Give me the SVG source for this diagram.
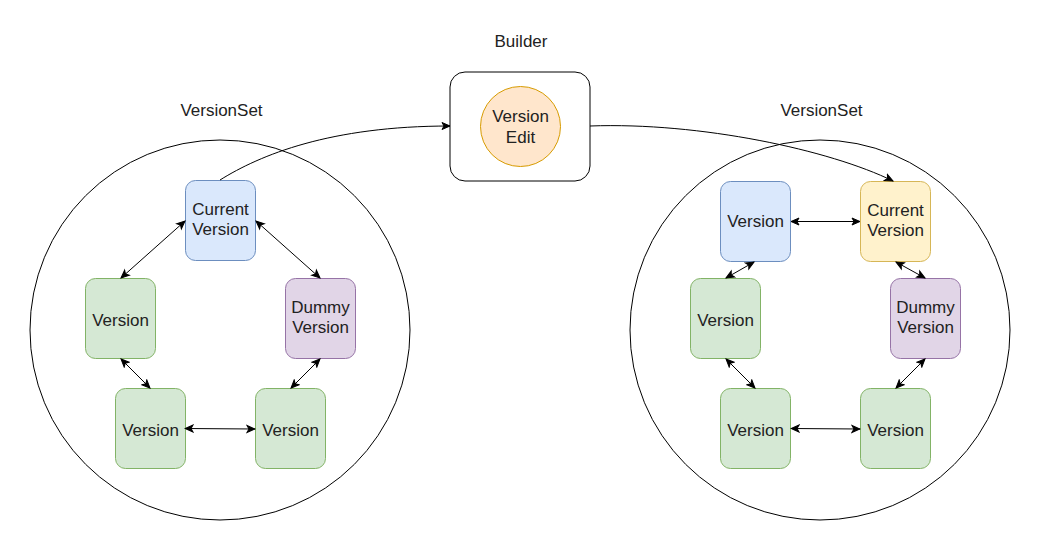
<svg xmlns="http://www.w3.org/2000/svg" width="1041" height="551" viewBox="0 0 1041 551">
<style>
text{font-family:"Liberation Sans",Arial,sans-serif;font-size:17px;fill:#222;text-anchor:middle}
.set{fill:none;stroke:#000;stroke-width:1}
.blue{fill:#dae8fc;stroke:#6c8ebf}
.green{fill:#d5e8d4;stroke:#82b366}
.purple{fill:#e1d5e7;stroke:#9673a6}
.yellow{fill:#fff2cc;stroke:#d6b656}
.orange{fill:#ffe6cc;stroke:#d79b00}
.c{fill:none;stroke:#000;stroke-width:1}
.d{marker-start:url(#ah);marker-end:url(#ah)}
.e{marker-end:url(#ah)}
</style>
<defs>
<marker id="ah" markerUnits="userSpaceOnUse" markerWidth="10" markerHeight="10" viewBox="0 0 10 10" refX="9" refY="5" orient="auto-start-reverse">
<path d="M1,1.5 L9,5 L1,8.5 L3,5 Z" fill="#000" stroke="#000" stroke-width="1"/>
</marker>
</defs>
<rect width="1041" height="551" fill="#fff"/>
<g id="labels">
<text x="521" y="47">Builder</text>
<text x="221.5" y="116">VersionSet</text>
<text x="821.5" y="116">VersionSet</text>
</g>
<g id="versionset-left"><circle class="set" cx="220" cy="330" r="190"/></g>
<g id="versionset-right"><circle class="set" cx="820" cy="330" r="190"/></g>
<g id="builder">
<rect x="450" y="72" width="140" height="109" rx="15" fill="#fff" stroke="#000"/>
</g>
<g id="version-edit">
<circle class="orange" cx="520.5" cy="126.5" r="40"/>
<text x="520.5" y="122">Version</text>
<text x="520.5" y="142.5">Edit</text>
</g>
<g id="l-current"><rect class="blue" x="185.5" y="180.5" width="70" height="80" rx="10"/><text x="220.5" y="215">Current</text><text x="220.5" y="235">Version</text></g>
<g id="l-v1"><rect class="green" x="85.5" y="278.5" width="70" height="80" rx="10"/><text x="120.5" y="325.5">Version</text></g>
<g id="l-dummy"><rect class="purple" x="285.5" y="278.5" width="70" height="80" rx="10"/><text x="320.5" y="313">Dummy</text><text x="320.5" y="333">Version</text></g>
<g id="l-v2"><rect class="green" x="115.5" y="388.5" width="70" height="80" rx="10"/><text x="150.5" y="435.5">Version</text></g>
<g id="l-v3"><rect class="green" x="255.5" y="388.5" width="70" height="80" rx="10"/><text x="290.5" y="435.5">Version</text></g>
<g id="r-v0"><rect class="blue" x="720.5" y="181.5" width="70" height="80" rx="10"/><text x="755.5" y="226.5">Version</text></g>
<g id="r-current"><rect class="yellow" x="860.5" y="181.5" width="70" height="80" rx="10"/><text x="895.5" y="216">Current</text><text x="895.5" y="236">Version</text></g>
<g id="r-v1"><rect class="green" x="690.5" y="278.5" width="70" height="80" rx="10"/><text x="725.5" y="325.5">Version</text></g>
<g id="r-dummy"><rect class="purple" x="890.5" y="278.5" width="70" height="80" rx="10"/><text x="925.5" y="313">Dummy</text><text x="925.5" y="333">Version</text></g>
<g id="r-v2"><rect class="green" x="720.5" y="388.5" width="70" height="80" rx="10"/><text x="755.5" y="435.5">Version</text></g>
<g id="r-v3"><rect class="green" x="860.5" y="388.5" width="70" height="80" rx="10"/><text x="895.5" y="435.5">Version</text></g>
<g id="connectors">
<path class="c d" d="M185,221 L121,278"/>
<path class="c d" d="M256,221 L320,278"/>
<path class="c d" d="M121,359 L150,388"/>
<path class="c d" d="M320,359 L291,388"/>
<path class="c d" d="M185,428.5 L255,429"/>
<path class="c d" d="M791,221.5 L860,221.5"/>
<path class="c d" d="M754,262 L726,278"/>
<path class="c d" d="M896,262 L925,278"/>
<path class="c d" d="M726,359 L755,388"/>
<path class="c d" d="M925,359 L896,388"/>
<path class="c d" d="M791,428.5 L860,429"/>
<path class="c e" d="M220,180 C260,155 330,126 450,126"/>
<path class="c e" d="M590,126 C700,122 830,150 893,181"/>
</g>
</svg>
